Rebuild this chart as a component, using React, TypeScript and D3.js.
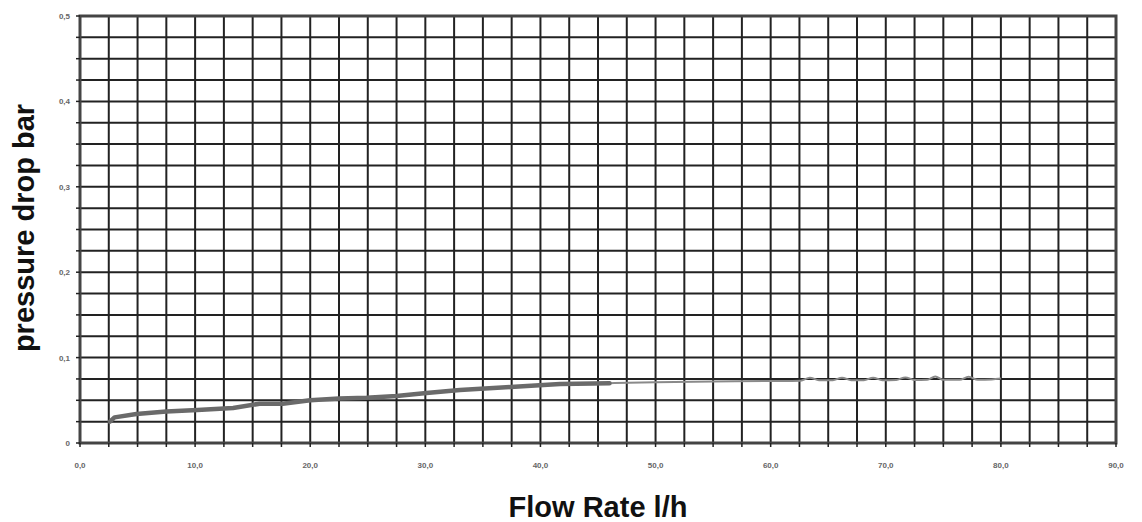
import * as d3 from "d3";

// flow rate (l/h) vs pressure drop (bar)
const mainFlow = [2.6, 3.0, 4.9, 7.5, 10.2, 13.3, 15.6, 17.6, 20.0, 22.5, 24.9, 27.5, 30.1, 33.0, 37.4, 41.7, 46.0];
const mainDrop = [0.025, 0.030, 0.034, 0.037, 0.0386, 0.041, 0.046, 0.046, 0.050, 0.052, 0.053, 0.055, 0.0585, 0.062, 0.0656, 0.069, 0.070];

const tailFlow = [46.0, 50.0, 55.0, 60.0, 62.6, 63.4, 64.2, 65.4, 66.2, 67.0, 68.1, 68.9, 69.7, 70.9, 71.7, 72.5, 73.6, 74.3, 75.0, 76.4, 77.2, 78.0, 79.2, 80.0];
const tailDrop = [0.070, 0.071, 0.072, 0.0726, 0.073, 0.0765, 0.0735, 0.0735, 0.0765, 0.0735, 0.0735, 0.0765, 0.0735, 0.0738, 0.0768, 0.0738, 0.074, 0.078, 0.074, 0.074, 0.0775, 0.074, 0.0745, 0.0755];

const xTickValues = [0, 10, 20, 30, 40, 50, 60, 70, 80, 90];
const xTickLabels = ["0,0", "10,0", "20,0", "30,0", "40,0", "50,0", "60,0", "70,0", "80,0", "90,0"];
const yTickValues = [0, 0.1, 0.2, 0.3, 0.4, 0.5];
const yTickLabels = ["0", "0,1", "0,2", "0,3", "0,4", "0,5"];

export default function App() {
  const width = 1142;
  const height = 522;
  const left = 80;
  const right = 1116;
  const top = 16;
  const bottom = 443;

  const x = d3.scaleLinear().domain([0, 90]).range([left, right]);
  const y = d3.scaleLinear().domain([0, 0.5]).range([bottom, top]);

  const xGrid = d3.range(0, 90.01, 2.5);
  const yGrid = d3.range(0, 0.5001, 0.025);

  const line = d3
    .line<[number, number]>()
    .x((d) => x(d[0]))
    .y((d) => y(d[1]));

  const mainPath = line(mainFlow.map((f, i) => [f, mainDrop[i]]));
  const tailPath = line.curve(d3.curveMonotoneX)(tailFlow.map((f, i) => [f, tailDrop[i]]));

  return (
    <svg
      width={width}
      height={height}
      style={{ position: "absolute", left: 0, top: 0, background: "#fff" }}
      fontFamily="'Liberation Sans', Arial, sans-serif"
    >
      {/* grid */}
      {xGrid.map((v) => (
        <line key={"vx" + v} x1={x(v)} x2={x(v)} y1={top} y2={bottom} stroke="#222" strokeWidth={2} />
      ))}
      {yGrid.map((v) => (
        <line key={"hy" + v} x1={left} x2={right} y1={y(v)} y2={y(v)} stroke="#222" strokeWidth={2} />
      ))}
      {/* border */}
      <rect x={left} y={top} width={right - left} height={bottom - top} fill="none" stroke="#444" strokeWidth={3} />

      {/* tick marks */}
      {xGrid.map((v) => (
        <line key={"tx" + v} x1={x(v)} x2={x(v)} y1={bottom} y2={bottom + 4} stroke="#222" strokeWidth={1.5} />
      ))}
      {yGrid.map((v) => (
        <line key={"ty" + v} x1={left - 4} x2={left} y1={y(v)} y2={y(v)} stroke="#222" strokeWidth={1.5} />
      ))}

      {/* data */}
      {tailPath && <path d={tailPath} fill="none" stroke="#8a8a8a" strokeWidth={2} />}
      {mainPath && <path d={mainPath} fill="none" stroke="#6a6a6a" strokeWidth={4.5} strokeLinecap="round" strokeLinejoin="round" />}

      {/* tick labels */}
      {xTickValues.map((v, i) => (
        <text key={"xl" + v} x={x(v)} y={468} textAnchor="middle" fontSize={8} fontWeight="bold" fill="#666">
          {xTickLabels[i]}
        </text>
      ))}
      {yTickValues.map((v, i) => (
        <text key={"yl" + v} x={70} y={y(v) + 3} textAnchor="end" fontSize={8} fontWeight="bold" fill="#666">
          {yTickLabels[i]}
        </text>
      ))}

      {/* axis titles */}
      <text
        transform={`translate(34, 228) rotate(-90)`}
        textAnchor="middle"
        fontSize={29}
        fontWeight="bold"
        fill="#111"
      >
        pressure drop bar
      </text>
      <text x={598} y={517} textAnchor="middle" fontSize={29} fontWeight="bold" fill="#111">
        Flow Rate l/h
      </text>
    </svg>
  );
}
